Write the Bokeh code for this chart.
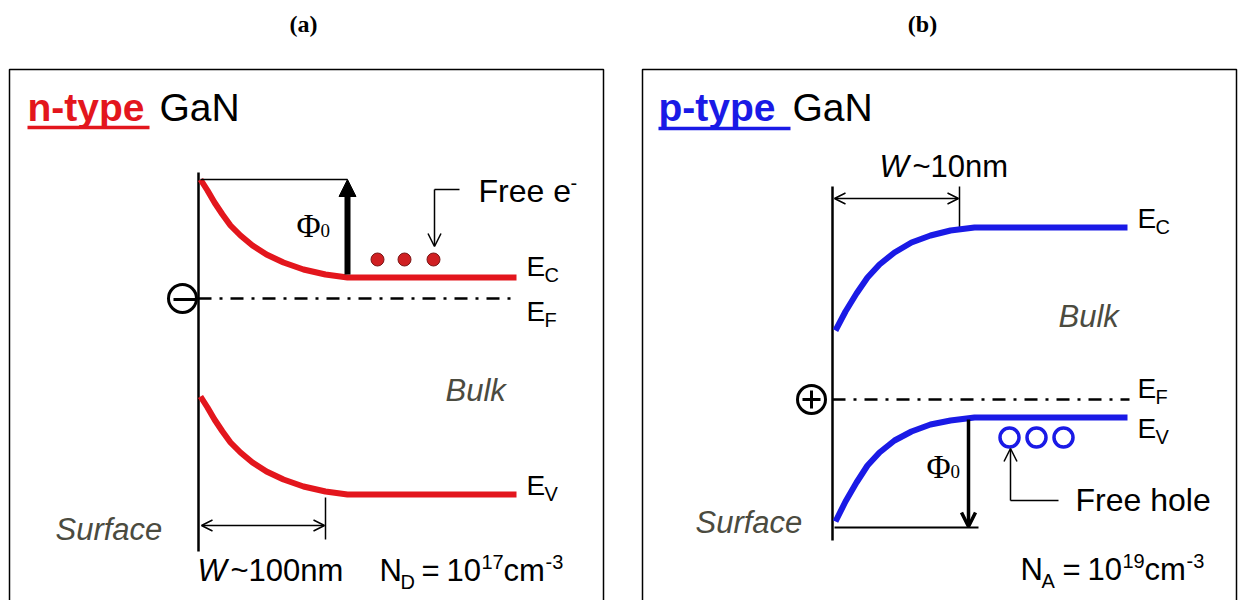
from bokeh.plotting import figure
from bokeh.models import Range1d, Arrow, OpenHead, NormalHead
from bokeh.core.properties import value
from bokeh.embed import file_html
from bokeh.resources import INLINE

# ---------------- data (diagram geometry, pixel space) ----------------
# n-type panel bands
n_ec_x = [200, 207, 214, 222, 230, 240, 252, 266, 283, 303, 325, 347, 516]
n_ec_y = [179, 190, 202, 214, 225, 235, 245, 254, 262, 269, 274, 277, 277]
n_ev_x = [200, 207, 214, 222, 230, 240, 252, 266, 283, 303, 325, 347, 516]
n_ev_y = [396, 407, 419, 431, 442, 452, 462, 471, 479, 486, 491, 494, 494]
n_ef_y = 298
n_electrons_x = [377, 404, 433]
n_electrons_y = [259, 259, 259]

# p-type panel bands
p_ec_x = [835, 845, 856, 867, 879, 894, 911, 930, 950, 974, 1127]
p_ec_y = [330, 311, 293, 277, 264, 252, 242, 235, 230, 227, 227]
p_ev_x = [835, 845, 856, 867, 879, 894, 911, 930, 950, 974, 1127]
p_ev_y = [521, 501, 482, 465, 452, 440, 431, 424, 420, 417, 417]
p_ef_y = 399
p_holes_x = [1009, 1036, 1063]
p_holes_y = [437, 437, 437]

panel_titles = ["(a)", "(b)"]
band_main = "E"
n_band_subs = ["C", "F", "V"]
p_band_subs = ["C", "F", "V"]

RED = "#e3161d"
BLUE = "#1a1ae6"
GRAY = "#4b4b3f"
SANS = "Liberation Sans"
SERIF = "Liberation Serif"

p = figure(width=1239, height=600, x_range=Range1d(0, 1239), y_range=Range1d(600, 0),
           output_backend="svg", toolbar_location=None, min_border=0,
           x_axis_type=None, y_axis_type=None)
p.grid.visible = False
p.outline_line_color = None
p.background_fill_color = "white"
p.border_fill_color = "white"

BASE_SHIFT = 0.36  # renderer places the alphabetic baseline this many em below the anchor


def txt(x, y, s, size, color="black", style="normal", font=SANS, align="left"):
    p.text(x=[x], y=[y - BASE_SHIFT * size], text=[s], text_font=value(font),
           text_font_size=f"{size}px", text_font_style=style, text_color=color,
           text_baseline="alphabetic", text_align=align)


def seg(x0, y0, x1, y1, w=1.5, color="black", dash="solid"):
    p.segment(x0=[x0], y0=[y0], x1=[x1], y1=[y1], line_width=w, line_color=color,
              line_dash=dash)


# panel titles
txt(303, 32, panel_titles[0], 24, style="bold", font=SERIF, align="center")
txt(922, 32, panel_titles[1], 24, style="bold", font=SERIF, align="center")

# boxes
for (x0, x1) in [(9, 603), (642, 1236)]:
    p.line(x=[x0, x0, x1, x1], y=[610, 69, 69, 610], line_width=1.5, line_color="black")

# ================= n-type panel =================
txt(27, 121, "n-type", 39, color=RED, style="bold")
seg(27, 127, 149, 127, w=3.5, color=RED)
txt(159, 121, "GaN", 39)

# surface line
seg(198, 172, 198, 551, w=2.5)

# bands
p.line(n_ec_x, n_ec_y, line_width=6, line_color=RED, line_join="round")
p.line(n_ev_x, n_ev_y, line_width=6, line_color=RED, line_join="round")
seg(198, n_ef_y, 514, n_ef_y, w=2.5, dash="13 8 3 8")

# surface charge (minus)
p.scatter(x=[182], y=[n_ef_y], size=28, marker="circle", fill_color=None,
          line_color="black", line_width=3)
seg(173, n_ef_y + 1, 196, n_ef_y + 1, w=3)

# phi0 arrow (up)
seg(200, 179, 347, 179, w=1.5)
p.add_layout(Arrow(end=NormalHead(size=17, fill_color="black", line_color="black"),
                   x_start=347, y_start=274, x_end=347, y_end=179, line_width=6))
txt(296, 237, "Φ", 33, font=SERIF)
txt(320, 237, "0", 19, font=SERIF)

# electrons
p.scatter(x=n_electrons_x, y=n_electrons_y, size=13, marker="circle",
          fill_color="#d01f22", line_color="#7a1515", line_width=1)

# Free e- pointer
seg(434, 189, 459, 189, w=1.5)
p.add_layout(Arrow(end=OpenHead(size=13, line_width=1.5), x_start=434, y_start=189,
                   x_end=434, y_end=246, line_width=1.5))
txt(478, 202, "Free e", 32)
txt(570, 190, "-", 20)

# band labels
for yb, ys, sub in [(276, 282, n_band_subs[0]), (321, 327, n_band_subs[1]), (495, 501, n_band_subs[2])]:
    txt(526, yb, band_main, 28)
    txt(544, ys, sub, 20)

txt(445, 401, "Bulk", 31, color=GRAY, style="italic")
txt(55, 540, "Surface", 31, color=GRAY, style="italic")

# W arrow
seg(325, 497, 325, 539, w=1.5)
p.add_layout(Arrow(start=OpenHead(size=11, line_width=1.5), end=OpenHead(size=11, line_width=1.5),
                   x_start=201, y_start=525, x_end=324, y_end=525, line_width=1.5))

txt(197, 581, "W", 31, style="italic")
txt(230, 581, "~100nm", 31)
txt(379, 581, "N", 31)
txt(400, 589, "D", 20)
txt(421, 581, "=", 31)
txt(446, 581, "10", 31)
txt(481, 569, "17", 20)
txt(503, 581, "cm", 31)
txt(545, 569, "-3", 20)

# ================= p-type panel =================
txt(658, 121, "p-type", 39, color=BLUE, style="bold")
seg(658, 128, 790, 128, w=3.5, color=BLUE)
txt(792, 121, "GaN", 39)

seg(832, 186, 832, 540, w=2.5)

# W arrow
txt(879, 177, "W", 31, style="italic")
txt(912, 177, "~10nm", 31)
seg(959, 186, 959, 227, w=1.5)
p.add_layout(Arrow(start=OpenHead(size=11, line_width=1.5), end=OpenHead(size=11, line_width=1.5),
                   x_start=834, y_start=198, x_end=958, y_end=198, line_width=1.5))

# bands
p.line(p_ec_x, p_ec_y, line_width=6, line_color=BLUE, line_join="round")
p.line(p_ev_x, p_ev_y, line_width=6, line_color=BLUE, line_join="round")
seg(832, p_ef_y, 1129, p_ef_y, w=2.5, dash="13 8 3 8")

# surface charge (plus)
p.scatter(x=[811], y=[p_ef_y], size=28, marker="circle", fill_color=None,
          line_color="black", line_width=3)
seg(802, p_ef_y, 820, p_ef_y, w=3)
seg(811, p_ef_y - 9, 811, p_ef_y + 9, w=3)

for yb, ys, sub in [(228, 234, p_band_subs[0]), (398, 404, p_band_subs[1]), (438, 444, p_band_subs[2])]:
    txt(1137, yb, band_main, 28)
    txt(1155, ys, sub, 20)

txt(1058, 327, "Bulk", 31, color=GRAY, style="italic")
txt(695, 533, "Surface", 31, color=GRAY, style="italic")

# phi0 arrow (down)
seg(834, 527, 978, 527, w=2)
p.add_layout(Arrow(end=OpenHead(size=14, line_width=3.5), x_start=968, y_start=419,
                   x_end=968, y_end=526, line_width=3.5))
txt(926, 478, "Φ", 33, font=SERIF)
txt(950, 478, "0", 19, font=SERIF)

# holes
p.scatter(x=p_holes_x, y=p_holes_y, size=19, marker="circle", fill_color=None,
          line_color=BLUE, line_width=3.5)

# Free hole pointer
seg(1010, 500, 1058, 500, w=1.5)
p.add_layout(Arrow(end=OpenHead(size=13, line_width=1.5), x_start=1010, y_start=500,
                   x_end=1010, y_end=448, line_width=1.5))
txt(1075, 511, "Free hole", 32)

txt(1020, 580, "N", 31)
txt(1041, 588, "A", 20)
txt(1062, 580, "=", 31)
txt(1087, 580, "10", 31)
txt(1122, 568, "19", 20)
txt(1144, 580, "cm", 31)
txt(1186, 568, "-3", 20)

open("out.html", "w").write(file_html(p, INLINE))
